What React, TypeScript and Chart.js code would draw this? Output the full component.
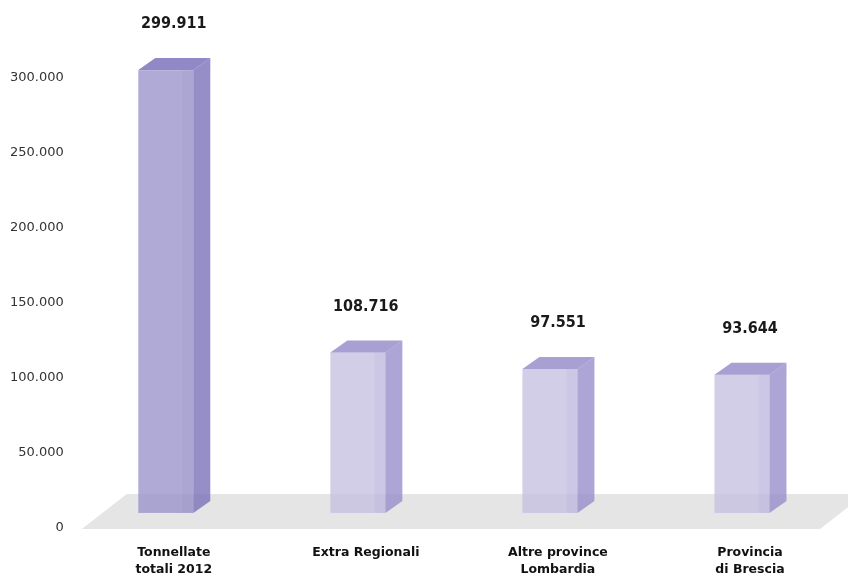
import { useEffect, useRef } from 'react';
import { Chart, registerables } from 'chart.js';

Chart.register(...registerables);

// ---- data ----
const categories: (string | string[])[] = [
  ['Tonnellate', 'totali 2012'],
  'Extra Regionali',
  ['Altre province', 'Lombardia'],
  ['Provincia', 'di Brescia'],
];
const values: number[] = [299911, 108716, 97551, 93644];
const yTickValues: number[] = [0, 50000, 100000, 150000, 200000, 250000, 300000];

// ---- styles ----
const frontColors = ['rgba(150,143,200,0.75)', 'rgba(195,190,224,0.75)', 'rgba(195,190,224,0.75)', 'rgba(195,190,224,0.75)'];
const sideColors = ['rgba(115,104,180,0.75)', 'rgba(144,135,199,0.75)', 'rgba(144,135,199,0.75)', 'rgba(144,135,199,0.75)'];
const topColors = ['rgba(107,98,178,0.75)', 'rgba(139,128,195,0.75)', 'rgba(139,128,195,0.75)', 'rgba(139,128,195,0.75)'];
const FLOOR_COLOR = '#e5e5e6';
const FONT = '"DejaVu Sans", sans-serif';
const COND_FONT = '"DejaVu Sans Condensed", "DejaVu Sans", sans-serif';

const fmt = (v: number) => String(v).replace(/\B(?=(\d{3})+(?!\d))/g, '.');

const threeDPlugin = {
  id: 'threeD',
  beforeDatasetsDraw(chart: any) {
    const ctx = chart.ctx;
    const { left, right } = chart.chartArea;
    const base = chart.scales.y.getPixelForValue(0);
    ctx.save();
    ctx.fillStyle = FLOOR_COLOR;
    ctx.beginPath();
    ctx.moveTo(left + 4, base + 1);
    ctx.lineTo(left + 49, base - 34);
    ctx.lineTo(right + 19, base - 34);
    ctx.lineTo(right - 26, base + 1);
    ctx.closePath();
    ctx.fill();
    ctx.restore();
  },
  afterDatasetsDraw(chart: any) {
    const ctx = chart.ctx;
    const meta = chart.getDatasetMeta(0);
    const dx = 17;
    const dy = 12;
    ctx.save();
    meta.data.forEach((el: any, i: number) => {
      const { x, y, base } = el.getProps(['x', 'y', 'base'], true);
      const fl = x - 35.5;
      const fr = x + 19.5;
      // front
      ctx.fillStyle = frontColors[i];
      ctx.fillRect(fl, y, fr - fl, base - y);
      // subtle shade strip on front
      ctx.fillStyle = 'rgba(90,80,150,0.05)';
      ctx.fillRect(fr - 11, y, 11, base - y);
      // side
      ctx.fillStyle = sideColors[i];
      ctx.beginPath();
      ctx.moveTo(fr, y);
      ctx.lineTo(fr + dx, y - dy);
      ctx.lineTo(fr + dx, base - dy);
      ctx.lineTo(fr, base);
      ctx.closePath();
      ctx.fill();
      // top
      ctx.fillStyle = topColors[i];
      ctx.beginPath();
      ctx.moveTo(fl, y);
      ctx.lineTo(fl + dx, y - dy);
      ctx.lineTo(fr + dx, y - dy);
      ctx.lineTo(fr, y);
      ctx.closePath();
      ctx.fill();
      // value label
      ctx.fillStyle = '#1a1a1a';
      ctx.font = `bold 16px ${COND_FONT}`;
      ctx.textAlign = 'center';
      ctx.textBaseline = 'middle';
      ctx.fillText(fmt(values[i]), x, y - 46);
    });
    ctx.restore();
  },
};

export default function App() {
  const canvasRef = useRef<HTMLCanvasElement | null>(null);

  useEffect(() => {
    const canvas = canvasRef.current;
    if (!canvas) return;
    const chart = new Chart(canvas, {
      type: 'bar',
      data: {
        labels: categories,
        datasets: [
          {
            data: values,
            yAxisID: 'yb',
            backgroundColor: 'rgba(0,0,0,0)',
            borderWidth: 0,
          },
        ],
      },
      options: {
        responsive: false,
        animation: false,
        events: [],
        layout: { autoPadding: false, padding: { left: -4, right: 2, top: 40, bottom: -15 } },
        plugins: { legend: { display: false }, tooltip: { enabled: false } },
        scales: {
          x: {
            grid: { display: false, drawTicks: false },
            border: { display: false },
            ticks: {
              padding: 16,
              color: '#111',
              font: { family: FONT, size: 12.5, weight: 'bold', lineHeight: 1.36 },
              maxRotation: 0,
              autoSkip: false,
            },
          },
          y: {
            position: 'left',
            min: 0,
            max: 325000,
            grid: { display: false, drawTicks: false },
            border: { display: false },
            afterBuildTicks: (axis: any) => {
              axis.ticks = yTickValues.map((v) => ({ value: v }));
            },
            ticks: {
              padding: 14,
              color: '#333',
              font: { family: FONT, size: 13 },
              callback: (v: any) => fmt(Number(v)),
            },
          },
          yb: {
            display: false,
            min: -10201,
            max: 320314,
          },
        },
      },
      plugins: [threeDPlugin],
    } as any);
    return () => chart.destroy();
  }, []);

  return (
    <div style={{ position: 'absolute', left: 0, top: 0, width: 848, height: 579, background: '#fff' }}>
      <canvas ref={canvasRef} width={848} height={579} />
    </div>
  );
}
